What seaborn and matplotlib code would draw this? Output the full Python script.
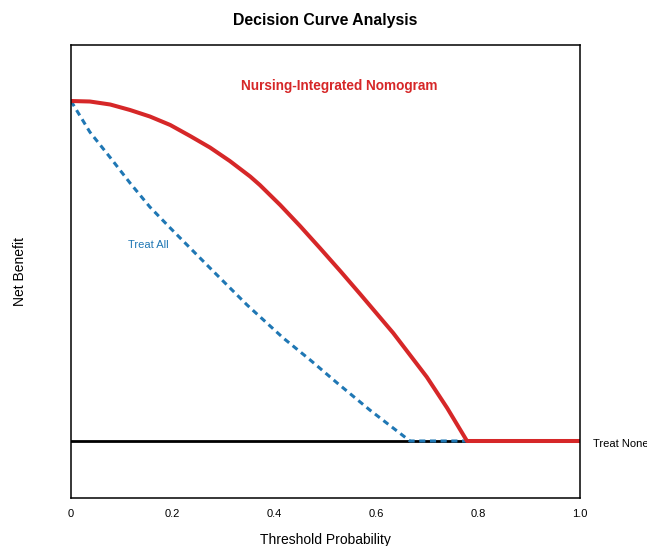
import matplotlib
matplotlib.use("Agg")
import matplotlib.pyplot as plt
import seaborn as sns
import pandas as pd

# ---- data ----
threshold_model = [0.0, 0.037, 0.077, 0.116, 0.155, 0.195, 0.234, 0.273, 0.312,
                   0.352, 0.371, 0.411, 0.450, 0.489, 0.529, 0.568, 0.633,
                   0.699, 0.739, 0.778, 1.0]
nb_model = [0.680, 0.679, 0.673, 0.662, 0.649, 0.632, 0.610, 0.587, 0.560,
            0.529, 0.512, 0.472, 0.430, 0.386, 0.340, 0.294, 0.216,
            0.128, 0.066, 0.0, 0.0]

threshold_all = [0.0, 0.037, 0.077, 0.116, 0.155, 0.195, 0.234, 0.277, 0.346,
                 0.417, 0.470, 0.523, 0.587, 0.666, 0.778]
nb_all = [0.680, 0.618, 0.567, 0.516, 0.468, 0.426, 0.386, 0.342, 0.272,
          0.206, 0.162, 0.116, 0.062, 0.0, 0.0]

threshold_none = [0.0, 1.0]
nb_none = [0.0, 0.0]

xticks = [0, 0.2, 0.4, 0.6, 0.8, 1.0]
xtick_labels = ["0", "0.2", "0.4", "0.6", "0.8", "1.0"]

title = "Decision Curve Analysis"
model_label = "Nursing-Integrated Nomogram"
all_label = "Treat All"
none_label = "Treat None"

df_model = pd.DataFrame({"t": threshold_model, "nb": nb_model})
df_all = pd.DataFrame({"t": threshold_all, "nb": nb_all})
df_none = pd.DataFrame({"t": threshold_none, "nb": nb_none})

sns.set_theme(style="white")
plt.rcParams["font.family"] = ["Liberation Sans", "DejaVu Sans"]
plt.rcParams["text.color"] = "black"
plt.rcParams["axes.labelcolor"] = "black"
plt.rcParams["xtick.color"] = "black"

RED = "#D62728"
BLUE = "#1F77B4"

fig = plt.figure(figsize=(6.47, 5.46), dpi=100)
ax = fig.add_axes([71 / 647, 48 / 546, 509 / 647, 453 / 546])

sns.lineplot(data=df_none, x="t", y="nb", ax=ax, color="black", linewidth=2.0,
             sort=False, estimator=None)
sns.lineplot(data=df_all, x="t", y="nb", ax=ax, color=BLUE, linewidth=2.2,
             sort=False, estimator=None)
ax.lines[-1].set_dashes((2.0, 1.5))
sns.lineplot(data=df_model, x="t", y="nb", ax=ax, color=RED, linewidth=2.9,
             sort=False, estimator=None)
for ln in ax.lines:
    ln.set_solid_joinstyle("round")

ax.set_xlim(0, 1.0)
ax.set_ylim(-0.114, 0.792)
ax.set_xticks(xticks)
ax.set_xticklabels(xtick_labels, fontsize=8)
ax.set_yticks([])
ax.tick_params(axis="x", length=0, pad=8, colors="black")

for s in ax.spines.values():
    s.set_color("black")
    s.set_linewidth(1.1)
    s.set_visible(True)

ax.set_xlabel("Threshold Probability", fontsize=10, color="black")
ax.xaxis.label.set_va("center")
ax.xaxis.set_label_coords(0.5, (498 - 540) / 453)
ax.set_ylabel("Net Benefit", fontsize=10, color="black")
ax.yaxis.label.set_va("center")
ax.yaxis.set_label_coords((20 - 71) / 509, 0.5)

fig.text(0.5 * (71 + 580) / 647, 1 - 21 / 546, title, fontsize=11.4,
         fontweight="bold", ha="center", va="center", color="black")

ax.text(0.527, 0.71, model_label, color=RED, fontsize=9.8, fontweight="bold",
        ha="center", va="center")
ax.text(0.151, 0.392, all_label, color=BLUE, fontsize=8, ha="center", va="center")
ax.text(1.0255, -0.006, none_label, color="black", fontsize=8, ha="left",
        va="center", clip_on=False)

fig.savefig("out.png", dpi=100)
